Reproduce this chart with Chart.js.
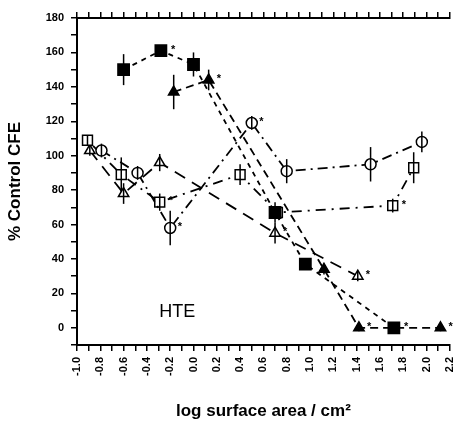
<!DOCTYPE html>
<html lang="en">
<head>
  <meta charset="UTF-8">
  <title>HTE - % Control CFE</title>
  <script src="https://cdn.jsdelivr.net/npm/chart.js"></script>
  <style>
    body { margin: 0; background: #fff; }
    .chart-container { position: relative; width: 469px; height: 424px; }
  </style>
</head>
<body>
  <div class="chart-container">
    <canvas id="cfeChart"></canvas>
  </div>

  <script>
    // x = log surface area (cm2), y = % control CFE, err = +/- error bar, star = point indices marked *
    const filledSqX = [-0.6, -0.28, 0.0, 0.7, 0.96, 1.72];
    const filledSqY = [150, 161, 153, 67, 37, 0];
    const filledSqErr = [9, 2, 7, 6, 3, 2];
    const filledSqStar = [1, 5];

    const filledTriX = [-0.17, 0.13, 1.12, 1.42, 2.12];
    const filledTriY = [137, 144, 34, 0, 0];
    const filledTriErr = [10, 6, 3, 2, 2];
    const filledTriStar = [1, 3, 4];

    const openCircX = [-0.79, -0.48, -0.2, 0.5, 0.8, 1.52, 1.96];
    const openCircY = [103, 90, 58, 119, 91, 95, 108];
    const openCircErr = [4, 4, 10, 4, 7, 10, 6];
    const openCircStar = [2, 3];

    const openSqX = [-0.91, -0.62, -0.29, 0.4, 0.72, 1.71, 1.89];
    const openSqY = [109, 89, 73, 89, 67, 71, 93];
    const openSqErr = [3, 10, 5, 6, 3, 4, 9];
    const openSqStar = [2, 5];

    const openTriX = [-0.89, -0.6, -0.29, 0.7, 1.41];
    const openTriY = [103, 78, 96, 55, 30];
    const openTriErr = [3, 6, 5, 6, 3];
    const openTriStar = [3, 4];

    const panelLabel = 'HTE';
    const panelLabelAt = [-0.14, 9];

    const series = [
      { x: filledSqX, y: filledSqY, err: filledSqErr, star: filledSqStar, style: 'rect', r: 8, fill: '#000', dash: [5, 5] },
      { x: filledTriX, y: filledTriY, err: filledTriErr, star: filledTriStar, style: 'triangle', r: 6, fill: '#000', dash: [8, 5] },
      { x: openCircX, y: openCircY, err: openCircErr, star: openCircStar, style: 'circle', r: 5.5, fill: '#fff', dash: [10, 5, 2, 5] },
      { x: openSqX, y: openSqY, err: openSqErr, star: openSqStar, style: 'rect', r: 7, fill: '#fff', dash: [2, 6, 10, 6] },
      { x: openTriX, y: openTriY, err: openTriErr, star: openTriStar, style: 'triangle', r: 6, fill: '#fff', dash: [12, 8] }
    ];

    const font = 'Liberation Sans, Arial, sans-serif';

    // error bars, asterisks and panel label
    const marksPlugin = {
      id: 'marks',
      afterDatasetsDraw(chart) {
        const { ctx, scales: { x, y } } = chart;
        ctx.save();
        ctx.strokeStyle = '#000';
        ctx.fillStyle = '#000';
        ctx.lineWidth = 1.5;
        series.forEach(s => {
          s.x.forEach((xv, i) => {
            const px = x.getPixelForValue(xv);
            ctx.beginPath();
            ctx.moveTo(px, y.getPixelForValue(s.y[i] - s.err[i]));
            ctx.lineTo(px, y.getPixelForValue(s.y[i] + s.err[i]));
            ctx.stroke();
          });
          ctx.font = 'bold 11px ' + font;
          ctx.textBaseline = 'middle';
          s.star.forEach(i => {
            ctx.fillText('*', x.getPixelForValue(s.x[i]) + s.r + 2, y.getPixelForValue(s.y[i]) - 1);
          });
        });
        ctx.font = '18px ' + font;
        ctx.textAlign = 'center';
        ctx.fillText(panelLabel, x.getPixelForValue(panelLabelAt[0]), y.getPixelForValue(panelLabelAt[1]));
        ctx.restore();
      }
    };

    const xLabel = v => {
      const k = Math.round(v * 10);
      return k % 2 === 0 ? (k / 10).toFixed(1) : '';
    };

    new Chart(document.getElementById('cfeChart'), {
      type: 'scatter',
      data: {
        datasets: series.map(s => ({
          data: s.x.map((xv, i) => ({ x: xv, y: s.y[i] })),
          showLine: true,
          borderColor: '#000',
          borderWidth: 1.8,
          borderDash: s.dash,
          pointStyle: s.style,
          pointRadius: s.r,
          pointBackgroundColor: s.fill,
          pointBorderColor: '#000',
          pointBorderWidth: 1.5
        }))
      },
      options: {
        responsive: true,
        maintainAspectRatio: false,
        animation: false,
        layout: { padding: { left: 0, right: 7, top: 0, bottom: 0 } },
        plugins: { legend: { display: false }, tooltip: { enabled: false } },
        scales: {
          x: {
            type: 'linear',
            position: 'bottom',
            min: -1.0,
            max: 2.2,
            afterFit(s) { s.height = 79; },
            border: { color: '#000', width: 2 },
            grid: { drawOnChartArea: false, color: '#000', lineWidth: 1.5, tickLength: 6 },
            ticks: {
              stepSize: 0.1,
              autoSkip: false,
              minRotation: 90,
              maxRotation: 90,
              padding: 6,
              color: '#000',
              font: { family: font, size: 11, weight: 'bold' },
              callback: xLabel
            },
            title: {
              display: true,
              text: 'log surface area / cm²',
              color: '#000',
              font: { family: font, size: 17, weight: 'bold' },
              padding: { top: 0, bottom: 2 }
            }
          },
          x2: {
            type: 'linear',
            position: 'top',
            min: -1.0,
            max: 2.2,
            afterFit(s) { s.height = 18; },
            border: { color: '#000', width: 2 },
            grid: { drawOnChartArea: false, color: '#000', lineWidth: 1.5, tickLength: 6 },
            ticks: { stepSize: 0.1, autoSkip: false, display: false }
          },
          y: {
            min: -10,
            max: 180,
            afterFit(s) { s.width = 77; },
            border: { color: '#000', width: 2 },
            grid: { drawOnChartArea: false, color: '#000', lineWidth: 1.5, tickLength: 6 },
            ticks: {
              stepSize: 10,
              autoSkip: false,
              padding: 7,
              color: '#000',
              font: { family: font, size: 11, weight: 'bold' },
              callback: v => (v >= 0 && v % 20 === 0 ? v : '')
            },
            title: {
              display: true,
              text: '% Control CFE',
              color: '#000',
              font: { family: font, size: 17, weight: 'bold' },
              padding: { top: 5, bottom: 0 }
            }
          }
        }
      },
      plugins: [marksPlugin]
    });
  </script>
</body>
</html>
